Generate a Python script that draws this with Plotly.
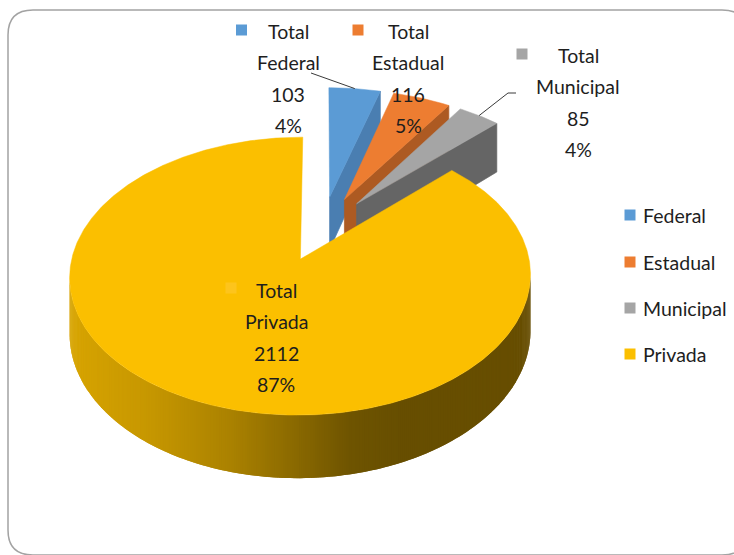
import numpy as np
import plotly.graph_objects as go

# ---- data -------------------------------------------------------------
series_name = "Total"
categories = ["Federal", "Estadual", "Municipal", "Privada"]
values = [103, 116, 85, 2112]

# ---- style ------------------------------------------------------------
top_colors = ["#5B9BD5", "#ED7D31", "#A5A5A5", "#FBBF00"]
cut_colors = ["#4A7EB1", "#AD5A22", "#656565", "#8A6A00"]
key_colors = ["#5B9BD5", "#ED7D31", "#A5A5A5", "#FDC41C"]
explode = [0.25, 0.25, 0.25, 0.25]

W, H = 734, 555
CX, CY = 322.4, 228.4      # projected centre of the disc
RX, RY = 222.4, 129.5      # on-screen radii of the disc
PERSP = 0.119              # foreshortening of the far side
DEPTH = 53.8               # wall height of the pie

FONT = dict(family="Lato, sans-serif", size=19.5, color="#1e1e1e")

# wall shading across the screen (fraction of the top colour)
shade_x = [68, 150, 230, 300, 350, 400, 560]
shade_f = [0.86, 0.79, 0.68, 0.54, 0.44, 0.41, 0.41]

# label placement: centre of first line, key square centre
label_pos = [(288, 31), (408, 31), (578, 55), (276, 290)]
key_pos = [(241.5, 30), (358, 30), (522, 54), (231, 288)]
LINE_STEP = 31.5


def project(u, v, wall=0.0):
    u = np.asarray(u, dtype=float)
    v = np.asarray(v, dtype=float)
    d = 1.0 + PERSP * v
    return CX + RX * u / d, CY - RY * v / d + wall * DEPTH / d


def hex_rgb(h):
    h = h.lstrip("#")
    return tuple(int(h[i:i + 2], 16) for i in (0, 2, 4))


def shaded(color, x):
    f = float(np.interp(x, shade_x, shade_f))
    r, g, b = hex_rgb(color)
    return "rgb(%d,%d,%d)" % (round(r * f), round(g * f), round(b * f))


fig = go.Figure()


def polygon(xs, ys, color, width=0.7):
    xs = list(xs) + [xs[0]]
    ys = list(ys) + [ys[0]]
    fig.add_trace(go.Scatter(x=xs, y=ys, mode="lines", fill="toself",
                             fillcolor=color,
                             line=dict(color=color, width=width),
                             hoverinfo="skip", showlegend=False))


total = float(sum(values))
sweep = np.array(values) / total * 360.0
end_deg = np.cumsum(sweep)
start_deg = end_deg - sweep
mid_deg = (start_deg + end_deg) / 2.0
pct = [int(round(100 * v / total)) for v in values]

centres = []
for i in range(len(values)):
    m = np.radians(mid_deg[i])
    centres.append((explode[i] * np.sin(m), explode[i] * np.cos(m)))

# paint from the back of the scene to the front
order = sorted(range(len(values)), key=lambda i: -centres[i][1])

for i in order:
    cu, cv = centres[i]
    a1, a2 = np.radians(start_deg[i]), np.radians(end_deg[i])
    th = np.linspace(a1, a2, max(8, int(np.degrees(a2 - a1) * 2)))
    u_arc, v_arc = cu + np.sin(th), cv + np.cos(th)

    # outer wall: only the part turned towards the viewer; each strip
    # overlaps the next one so no hairline gaps remain
    xt, yt = project(u_arc, v_arc)
    xb, yb = project(u_arc, v_arc, 1.0)
    facing = [k for k in range(len(th) - 1) if xt[k + 1] < xt[k]]
    for k in facing:
        k2 = min(k + 2, facing[-1] + 1)
        polygon([xt[k], xt[k + 1], xt[k2], xb[k2], xb[k + 1], xb[k]],
                [yt[k], yt[k + 1], yt[k2], yb[k2], yb[k + 1], yb[k]],
                shaded(top_colors[i], (xt[k] + xt[k + 1]) / 2), 0)

    # radial cut face on the closing edge
    if np.sin(a2) > 1e-6:
        ou, ov = cu + np.sin(a2), cv + np.cos(a2)
        x1, y1 = project([cu, ou], [cv, ov])
        x2, y2 = project([ou, cu], [ov, cv], 1.0)
        polygon(list(x1) + list(x2), list(y1) + list(y2), cut_colors[i])

    # radial cut face on the opening edge
    if np.sin(a1) < -1e-6:
        ou, ov = cu + np.sin(a1), cv + np.cos(a1)
        x1, y1 = project([cu, ou], [cv, ov])
        x2, y2 = project([ou, cu], [ov, cv], 1.0)
        polygon(list(x1) + list(x2), list(y1) + list(y2), cut_colors[i])

    # top face
    x0, y0 = project([cu], [cv])
    polygon([x0[0]] + list(xt), [y0[0]] + list(yt), top_colors[i], 0.5)


def arc_mid(i):
    cu, cv = centres[i]
    m = np.radians(mid_deg[i])
    x, y = project([cu + np.sin(m)], [cv + np.cos(m)])
    return float(x[0]), float(y[0])


# leader lines for the labels sitting outside their slice
leaders = {0: [(311, 73)], 2: [(516, 93), (508, 93)]}
for i, pts in leaders.items():
    mx, my = arc_mid(i)
    xs = [p[0] for p in pts] + [mx]
    ys = [p[1] for p in pts] + [my]
    fig.add_trace(go.Scatter(x=xs, y=ys, mode="lines",
                             line=dict(color="#3a3a3a", width=1),
                             hoverinfo="skip", showlegend=False))

# data labels: series name, category, value, percentage
for i, cat in enumerate(categories):
    lx, ly = label_pos[i]
    lines = [series_name, cat, str(values[i]), "%d%%" % pct[i]]
    for j, txt in enumerate(lines):
        fig.add_annotation(x=lx, y=ly + j * LINE_STEP, text=txt,
                           showarrow=False, xanchor="center",
                           yanchor="middle", font=FONT)
    kx, ky = key_pos[i]
    fig.add_trace(go.Scatter(x=[kx], y=[ky], mode="markers",
                             marker=dict(symbol="square", size=11,
                                         color=key_colors[i],
                                         line=dict(width=0)),
                             hoverinfo="skip", showlegend=False))

# legend
legend_y = [215, 262, 308, 354]
fig.add_trace(go.Scatter(x=[630] * len(categories), y=legend_y,
                         mode="markers",
                         marker=dict(symbol="square", size=11,
                                     color=top_colors, line=dict(width=0)),
                         hoverinfo="skip", showlegend=False))
for i, cat in enumerate(categories):
    fig.add_annotation(x=641, y=legend_y[i], text=cat, showarrow=False,
                       xanchor="left", yanchor="middle", font=FONT)

# rounded chart frame
frame = ("M 722,10 L 33,10 Q 8,10 8,35 L 8,530 Q 8,555 33,555 "
         "L 722,555 Q 747,555 747,530 L 747,35 Q 747,10 722,10 Z")
fig.add_shape(type="path", path=frame, xref="x", yref="y",
              line=dict(color="#a3a3a3", width=1.5), layer="below")

fig.update_layout(
    width=W, height=H,
    margin=dict(l=0, r=0, t=0, b=0),
    paper_bgcolor="white", plot_bgcolor="white",
    showlegend=False,
    xaxis=dict(range=[0, W], visible=False, fixedrange=True),
    yaxis=dict(range=[H, 0], visible=False, fixedrange=True),
)

fig.write_html("out.html")
